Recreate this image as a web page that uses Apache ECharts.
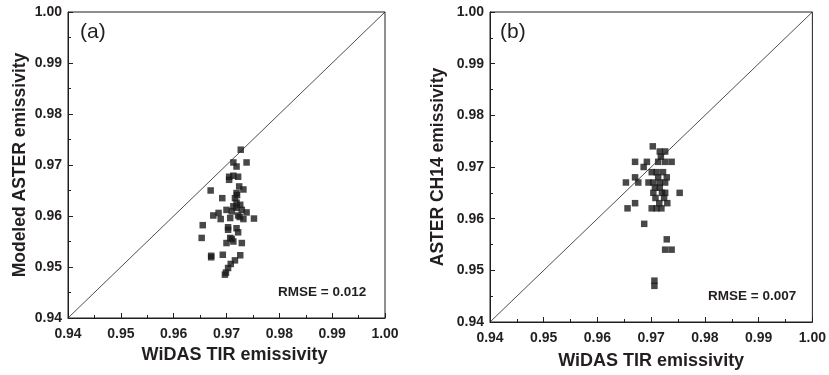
<!DOCTYPE html>
<html><head><meta charset="utf-8">
<script src="https://cdn.jsdelivr.net/npm/echarts@6/dist/echarts.min.js"></script>
<style>html,body{margin:0;padding:0;background:#fff}#c{width:829px;height:375px}</style>
</head><body><div id="c"></div>
<script>
const axisMin = 0.94, axisMax = 1.00, axisStep = 0.01;
const diagonal = [[0.94, 0.94], [1.00, 1.00]];
const panelLabels = ['(a)', '(b)'];
const xTitle = 'WiDAS TIR emissivity';
const yTitles = ['Modeled ASTER emissivity', 'ASTER CH14 emissivity'];
const rmseTexts = ['RMSE = 0.012', 'RMSE = 0.007'];

const aX = [0.9727,0.9713,0.9719,0.9738,0.9705,0.9713,0.9722,0.9705,0.9724,0.9732,0.9670,0.9719,0.9716,0.9692,0.9719,0.9726,0.9713,0.9700,0.9710,0.9719,0.9729,0.9738,0.9685,0.9675,0.9689,0.9707,0.9725,0.9732,0.9752,0.9655,0.9703,0.9719,0.9722,0.9653,0.9707,0.9700,0.9713,0.9729,0.9671,0.9671,0.9693,0.9726,0.9716,0.9708,0.9703,0.9699,0.9697,0.9720,0.9722,0.9703,0.9710];
const aY = [0.9730,0.9705,0.9697,0.9705,0.9677,0.9679,0.9677,0.9671,0.9658,0.9652,0.9650,0.9645,0.9635,0.9635,0.9626,0.9622,0.9619,0.9612,0.9609,0.9616,0.9612,0.9607,0.9606,0.9601,0.9594,0.9596,0.9598,0.9594,0.9595,0.9582,0.9578,0.9576,0.9568,0.9557,0.9557,0.9547,0.9550,0.9547,0.9519,0.9522,0.9524,0.9523,0.9513,0.9506,0.9498,0.9489,0.9485,0.9641,0.9601,0.9573,0.9555];

const bX = [0.9703,0.9716,0.9726,0.9670,0.9692,0.9713,0.9726,0.9738,0.9686,0.9701,0.9710,0.9722,0.9670,0.9729,0.9713,0.9653,0.9676,0.9695,0.9704,0.9726,0.9716,0.9707,0.9716,0.9704,0.9726,0.9753,0.9708,0.9724,0.9670,0.9730,0.9656,0.9701,0.9710,0.9719,0.9687,0.9729,0.9726,0.9738,0.9706,0.9706,0.9718,0.9720,0.9715];
const bY = [0.974,0.973,0.973,0.971,0.971,0.971,0.971,0.971,0.970,0.969,0.969,0.969,0.968,0.968,0.968,0.967,0.967,0.967,0.967,0.967,0.967,0.966,0.966,0.965,0.965,0.965,0.964,0.964,0.963,0.963,0.962,0.962,0.962,0.962,0.959,0.956,0.954,0.954,0.948,0.947,0.972,0.965,0.963];

const zip = (xs, ys) => xs.map((x, i) => [x, ys[i]]);
const FONT = 'Liberation Sans, Arial, sans-serif';
const INK = '#231f20';

function xAxisCfg(gi, gap, pad) {
  return {
    gridIndex: gi, type: 'value', min: axisMin, max: axisMax, interval: axisStep,
    name: xTitle, nameLocation: 'middle', nameGap: gap,
    nameTextStyle: { fontFamily: FONT, fontWeight: 'bold', fontSize: 18, color: INK, padding: pad },
    axisLine: { lineStyle: { color: INK, width: 1 } },
    axisTick: { inside: true, length: 5, lineStyle: { color: INK } },
    minorTick: { show: true, splitNumber: 2, length: 3, lineStyle: { color: INK } },
    splitLine: { show: false },
    axisLabel: { fontFamily: FONT, fontWeight: 'bold', fontSize: 14, color: INK, margin: 9,
      formatter: v => v.toFixed(2) }
  };
}
function yAxisCfg(gi, gap) {
  return {
    gridIndex: gi, type: 'value', min: axisMin, max: axisMax, interval: axisStep,
    name: yTitles[gi], nameLocation: 'middle', nameGap: gap,
    nameTextStyle: { fontFamily: FONT, fontWeight: 'bold', fontSize: 17.5, color: INK },
    axisLine: { lineStyle: { color: INK, width: 1 } },
    axisTick: { inside: true, length: 5, lineStyle: { color: INK } },
    minorTick: { show: true, splitNumber: 2, length: 3, lineStyle: { color: INK } },
    splitLine: { show: false },
    axisLabel: { fontFamily: FONT, fontWeight: 'bold', fontSize: 14, color: INK, margin: 6,
      formatter: v => v.toFixed(2) }
  };
}

const chart = echarts.init(document.getElementById('c'), null, { renderer: 'canvas' });
chart.setOption({
  animation: false,
  backgroundColor: '#fff',
  grid: [
    { left: 68, top: 12, width: 317, height: 306, show: true, borderColor: INK, borderWidth: 1 },
    { left: 490, top: 12, width: 326, height: 311, show: true, borderColor: INK, borderWidth: 1 }
  ],
  xAxis: [xAxisCfg(0, 27, [0, 0, 0, 16]), xAxisCfg(1, 30, 0)],
  yAxis: [yAxisCfg(0, 39), yAxisCfg(1, 43)],
  title: [
    { text: panelLabels[0], left: 80, top: 22, padding: 0, textStyle: { fontFamily: FONT, fontWeight: 'normal', fontSize: 21, color: INK } },
    { text: panelLabels[1], left: 500, top: 22, padding: 0, textStyle: { fontFamily: FONT, fontWeight: 'normal', fontSize: 21, color: INK } },
    { text: rmseTexts[0], left: 278, top: 285, padding: 0, textStyle: { fontFamily: FONT, fontWeight: 'bold', fontSize: 13.5, color: INK } },
    { text: rmseTexts[1], left: 708, top: 289, padding: 0, textStyle: { fontFamily: FONT, fontWeight: 'bold', fontSize: 13.5, color: INK } }
  ],
  series: [
    { type: 'line', xAxisIndex: 0, yAxisIndex: 0, data: diagonal, symbol: 'none', lineStyle: { color: INK, width: 0.8 } },
    { type: 'line', xAxisIndex: 1, yAxisIndex: 1, data: diagonal, symbol: 'none', lineStyle: { color: INK, width: 0.8 } },
    { type: 'scatter', xAxisIndex: 0, yAxisIndex: 0, data: zip(aX, aY), symbol: 'rect', symbolSize: 6.5, itemStyle: { color: '#1a1a1a' } },
    { type: 'scatter', xAxisIndex: 1, yAxisIndex: 1, data: zip(bX, bY), symbol: 'rect', symbolSize: 6.5, itemStyle: { color: '#1a1a1a' } }
  ]
});
</script>
</body></html>
